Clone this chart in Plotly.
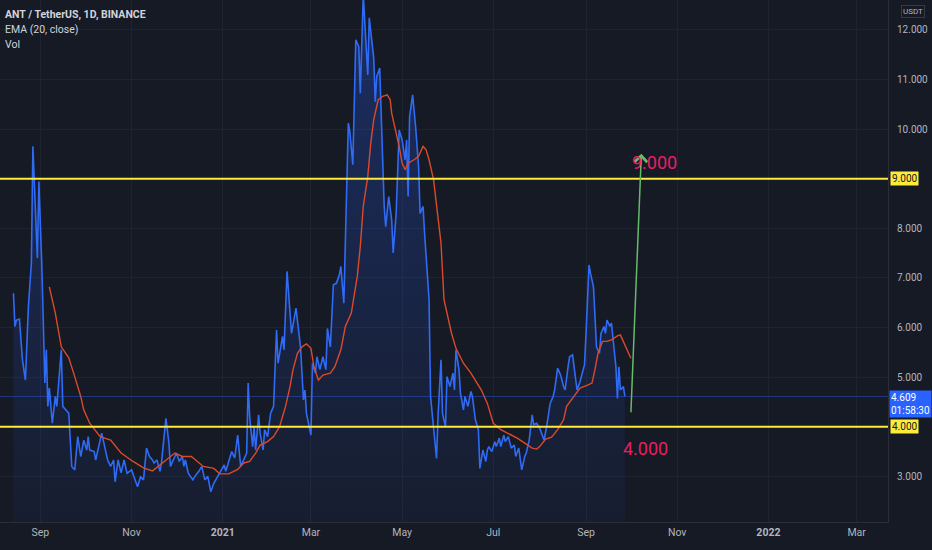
import plotly.graph_objects as go

# ANT/USDT daily close
price_dates = [
    "2020-08-14", "2020-08-15", "2020-08-16", "2020-08-18", "2020-08-20", "2020-08-22",
    "2020-08-24", "2020-08-26", "2020-08-27", "2020-08-30", "2020-08-31", "2020-09-02",
    "2020-09-04", "2020-09-05", "2020-09-06", "2020-09-07", "2020-09-09", "2020-09-11",
    "2020-09-12", "2020-09-13", "2020-09-15", "2020-09-16", "2020-09-18", "2020-09-20",
    "2020-09-22", "2020-09-24", "2020-09-26", "2020-09-28", "2020-09-30", "2020-10-02",
    "2020-10-03", "2020-10-04", "2020-10-07", "2020-10-08", "2020-10-11", "2020-10-12",
    "2020-10-14", "2020-10-16", "2020-10-18", "2020-10-20", "2020-10-21", "2020-10-23",
    "2020-10-25", "2020-10-27", "2020-10-29", "2020-11-01", "2020-11-05", "2020-11-07",
    "2020-11-09", "2020-11-11", "2020-11-13", "2020-11-15", "2020-11-16", "2020-11-18",
    "2020-11-20", "2020-11-21", "2020-11-24", "2020-11-26", "2020-11-27", "2020-11-30",
    "2020-12-01", "2020-12-03", "2020-12-05", "2020-12-06", "2020-12-07", "2020-12-09",
    "2020-12-12", "2020-12-14", "2020-12-16", "2020-12-18", "2020-12-20", "2020-12-22",
    "2020-12-24", "2020-12-26", "2020-12-28", "2020-12-30", "2021-01-02", "2021-01-03",
    "2021-01-06", "2021-01-07", "2021-01-09", "2021-01-11", "2021-01-13", "2021-01-15",
    "2021-01-17", "2021-01-18", "2021-01-19", "2021-01-21", "2021-01-22", "2021-01-23",
    "2021-01-25", "2021-01-26", "2021-01-28", "2021-01-29", "2021-01-31", "2021-02-02",
    "2021-02-04", "2021-02-06", "2021-02-07", "2021-02-10", "2021-02-11", "2021-02-13",
    "2021-02-16", "2021-02-19", "2021-02-21", "2021-02-22", "2021-02-24", "2021-02-25",
    "2021-02-26", "2021-03-01", "2021-03-02", "2021-03-04", "2021-03-05", "2021-03-07",
    "2021-03-09", "2021-03-11", "2021-03-12", "2021-03-14", "2021-03-16", "2021-03-18",
    "2021-03-20", "2021-03-21", "2021-03-23", "2021-03-26", "2021-03-27", "2021-03-29",
    "2021-03-31", "2021-04-02", "2021-04-03", "2021-04-05", "2021-04-08", "2021-04-09",
    "2021-04-12", "2021-04-13", "2021-04-14", "2021-04-16", "2021-04-17", "2021-04-19",
    "2021-04-20", "2021-04-22", "2021-04-24", "2021-04-25", "2021-04-27", "2021-04-29",
    "2021-05-01", "2021-05-03", "2021-05-04", "2021-05-05", "2021-05-06", "2021-05-08",
    "2021-05-10", "2021-05-11", "2021-05-12", "2021-05-13", "2021-05-15", "2021-05-16",
    "2021-05-18", "2021-05-19", "2021-05-20", "2021-05-22", "2021-05-24", "2021-05-25",
    "2021-05-27", "2021-05-28", "2021-05-30", "2021-05-31", "2021-06-02", "2021-06-04",
    "2021-06-05", "2021-06-06", "2021-06-08", "2021-06-09", "2021-06-11", "2021-06-12",
    "2021-06-14", "2021-06-16", "2021-06-17", "2021-06-19", "2021-06-21", "2021-06-22",
    "2021-06-24", "2021-06-26", "2021-06-27", "2021-06-28", "2021-06-30", "2021-07-02",
    "2021-07-03", "2021-07-05", "2021-07-06", "2021-07-08", "2021-07-09", "2021-07-11",
    "2021-07-13", "2021-07-15", "2021-07-16", "2021-07-18", "2021-07-20", "2021-07-22",
    "2021-07-23", "2021-07-25", "2021-07-27", "2021-07-28", "2021-07-30", "2021-08-01",
    "2021-08-03", "2021-08-04", "2021-08-06", "2021-08-08", "2021-08-10", "2021-08-11",
    "2021-08-13", "2021-08-15", "2021-08-17", "2021-08-18", "2021-08-20", "2021-08-21",
    "2021-08-23", "2021-08-25", "2021-08-26", "2021-08-28", "2021-08-29", "2021-08-31",
    "2021-09-01", "2021-09-03", "2021-09-04", "2021-09-06", "2021-09-07", "2021-09-08",
    "2021-09-10", "2021-09-11", "2021-09-13", "2021-09-14", "2021-09-15", "2021-09-17",
    "2021-09-18", "2021-09-19", "2021-09-21", "2021-09-22", "2021-09-23", "2021-09-24",
    "2021-09-26", "2021-09-27",
]
price_close = [
    6.69, 6.02, 6.15, 6.17, 5.35, 4.94,
    6.42, 7.30, 9.65, 7.40, 8.94, 7.23,
    4.88, 5.55, 4.41, 4.78, 4.07, 4.61,
    4.41, 4.81, 5.55, 4.41, 4.34, 4.27,
    3.20, 3.13, 3.80, 3.40, 3.73, 3.53,
    3.80, 3.53, 3.50, 3.33, 3.73, 3.87,
    3.60, 3.33, 3.20, 3.33, 2.89, 3.33,
    3.07, 3.33, 3.06, 3.13, 2.79, 2.99,
    2.93, 3.57, 3.40, 3.33, 3.27, 3.33,
    3.10, 3.27, 4.17, 3.67, 3.20, 3.40,
    3.47, 3.30, 3.40, 3.20, 3.33, 3.06,
    2.93, 3.03, 3.10, 3.20, 2.93, 3.00,
    2.69, 2.86, 2.96, 3.06, 3.23, 3.10,
    3.40, 3.50, 3.37, 3.83, 3.20, 3.33,
    3.47, 4.88, 4.20, 3.60, 4.00, 3.53,
    4.24, 3.87, 3.53, 3.94, 3.80, 4.27,
    4.41, 5.95, 5.28, 5.82, 5.55, 7.13,
    5.88, 6.39, 5.82, 5.61, 4.54, 4.74,
    4.27, 3.83, 5.28, 5.08, 5.41, 5.15,
    5.41, 5.15, 5.98, 5.61, 6.86, 6.89,
    7.06, 7.23, 6.49, 10.12, 9.95, 9.28,
    11.80, 11.66, 10.72, 12.70, 11.09, 12.24,
    11.43, 10.55, 11.06, 11.23, 10.29, 8.44,
    8.03, 8.64, 8.17, 7.50, 8.30, 9.98,
    9.78, 9.38, 9.78, 8.64, 10.25, 10.69,
    10.05, 9.71, 9.24, 8.30, 8.44, 7.90,
    7.09, 6.56, 4.61, 3.94, 3.36, 4.20,
    5.35, 4.27, 4.00, 5.01, 4.81, 5.08,
    4.74, 5.55, 5.15, 4.68, 4.34, 4.61,
    4.41, 4.71, 4.61, 4.14, 3.94, 3.16,
    3.53, 3.30, 3.53, 3.60, 3.50, 3.70,
    3.60, 3.77, 3.60, 3.83, 3.70, 3.80,
    3.57, 3.63, 3.40, 3.57, 3.13, 3.40,
    3.47, 3.73, 4.24, 4.04, 4.07, 3.97,
    3.83, 3.73, 4.07, 4.47, 4.61, 4.74,
    5.18, 5.04, 4.81, 4.74, 5.21, 5.41,
    5.45, 5.01, 4.74, 4.91, 5.01, 5.25,
    5.88, 7.26, 7.09, 6.82, 6.22, 5.61,
    5.48, 5.88, 6.02, 5.88, 6.15, 6.02,
    6.09, 5.82, 5.21, 4.57, 5.21, 4.74,
    4.81, 4.61,
]

# EMA (20, close)
ema_dates = [
    "2020-09-07", "2020-09-11", "2020-09-15", "2020-09-20", "2020-09-24", "2020-09-28",
    "2020-09-30", "2020-10-04", "2020-10-11", "2020-10-18", "2020-10-25", "2020-11-02",
    "2020-11-09", "2020-11-15", "2020-11-20", "2020-11-30", "2020-12-05", "2020-12-11",
    "2020-12-19", "2020-12-26", "2020-12-30", "2021-01-05", "2021-01-11", "2021-01-15",
    "2021-01-19", "2021-01-23", "2021-01-26", "2021-01-31", "2021-02-04", "2021-02-08",
    "2021-02-12", "2021-02-15", "2021-02-17", "2021-02-20", "2021-02-23", "2021-02-26",
    "2021-03-01", "2021-03-03", "2021-03-06", "2021-03-09", "2021-03-14", "2021-03-17",
    "2021-03-21", "2021-03-24", "2021-03-28", "2021-04-01", "2021-04-03", "2021-04-05",
    "2021-04-08", "2021-04-10", "2021-04-12", "2021-04-15", "2021-04-18", "2021-04-21",
    "2021-04-23", "2021-04-24", "2021-04-26", "2021-04-29", "2021-05-01", "2021-05-03",
    "2021-05-05", "2021-05-09", "2021-05-12", "2021-05-15", "2021-05-17", "2021-05-19",
    "2021-05-22", "2021-05-24", "2021-05-27", "2021-05-29", "2021-05-31", "2021-06-03",
    "2021-06-06", "2021-06-09", "2021-06-11", "2021-06-16", "2021-06-20", "2021-06-23",
    "2021-06-27", "2021-07-01", "2021-07-06", "2021-07-11", "2021-07-17", "2021-07-22",
    "2021-07-27", "2021-07-30", "2021-08-01", "2021-08-05", "2021-08-09", "2021-08-13",
    "2021-08-17", "2021-08-19", "2021-08-24", "2021-08-28", "2021-09-02", "2021-09-05",
    "2021-09-07", "2021-09-09", "2021-09-12", "2021-09-15", "2021-09-18", "2021-09-22",
    "2021-09-24", "2021-09-27", "2021-09-29", "2021-10-01",
]
ema_values = [
    6.82, 6.29, 5.61, 5.39, 5.01, 4.61,
    4.34, 4.07, 3.80, 3.73, 3.47, 3.30,
    3.17, 3.11, 3.23, 3.47, 3.40, 3.40,
    3.20, 3.16, 3.05, 3.05, 3.14, 3.27,
    3.30, 3.47, 3.63, 3.70, 3.80, 4.00,
    4.41, 4.81, 5.15, 5.48, 5.61, 5.67,
    5.58, 5.21, 4.94, 5.04, 5.08, 5.21,
    5.55, 6.02, 6.29, 7.03, 7.63, 8.44,
    9.04, 9.71, 10.19, 10.59, 10.66, 10.69,
    10.59, 10.32, 10.05, 9.65, 9.31, 9.18,
    9.31, 9.38, 9.45, 9.65, 9.58, 9.38,
    8.98, 8.44, 7.70, 6.56, 6.29, 5.89,
    5.58, 5.38, 5.28, 5.08, 4.88, 4.74,
    4.47, 4.07, 3.94, 3.87, 3.77, 3.67,
    3.57, 3.55, 3.60, 3.75, 3.79, 3.94,
    4.14, 4.41, 4.61, 4.78, 4.84, 4.88,
    5.15, 5.48, 5.72, 5.72, 5.75, 5.83,
    5.85, 5.65, 5.52, 5.38,
]

levels = [9.0, 4.0]
last_price = 4.609
countdown = "01:58:30"
arrow_start = ("2021-10-01", 4.26)
arrow_end = ("2021-10-08", 9.50)
target_labels = [("2021-10-17", 9.32, "9.000"), ("2021-10-11", 3.57, "4.000")]

tick_dates = ["2020-09-01", "2020-11-01", "2021-01-01", "2021-03-01", "2021-05-01",
              "2021-07-01", "2021-09-01", "2021-11-01", "2022-01-01", "2022-03-01"]
tick_text = ["Sep", "Nov", "<b>2021</b>", "Mar", "May", "Jul", "Sep", "Nov",
             "<b>2022</b>", "Mar"]
# 4 and 9 are covered by the level labels
y_ticks = [3, 5, 6, 7, 8, 10, 11, 12]
y_grid = [3, 4, 5, 6, 7, 8, 9, 10, 11, 12]

BG = "#161a25"
GRID = "#1f2331"
TEXT = "#b2b5be"
YELLOW = "#ffeb3b"
BLUE = "#2f6bf5"
PINK = "#e91e63"
FONT = "Roboto"

fig = go.Figure()

fig.add_trace(go.Scatter(
    x=price_dates, y=price_close, mode="lines",
    line=dict(color=BLUE, width=1.6),
    fill="tozeroy",
    fillgradient=dict(type="vertical",
                      colorscale=[[0, "rgba(41,98,255,0.0)"], [1, "rgba(41,98,255,0.28)"]]),
    hoverinfo="skip", showlegend=False,
))
fig.add_trace(go.Scatter(
    x=ema_dates, y=ema_values, mode="lines",
    line=dict(color="#dc4a2a", width=1.4),
    hoverinfo="skip", showlegend=False,
))

# grid lines for the covered levels (drawn under the data)
for g in y_grid:
    if g not in y_ticks:
        fig.add_hline(y=g, line=dict(color=GRID, width=1), layer="below")

# horizontal support / resistance
for lv in levels:
    fig.add_hline(y=lv, line=dict(color=YELLOW, width=2))
    fig.add_annotation(x=1, xref="paper", y=lv, yref="y", xanchor="left", yanchor="middle",
                       xshift=2, text=f"{lv:.3f}", showarrow=False,
                       font=dict(family=FONT, size=10, color="#131722"),
                       bgcolor=YELLOW, borderpad=1)

# last price line and label
fig.add_hline(y=last_price, line=dict(color="rgba(41,98,255,0.4)", width=1))
fig.add_annotation(x=1, xref="paper", y=last_price, yref="y", xanchor="left", yanchor="top",
                   xshift=1, yshift=7, text=f"{last_price:.3f}<br>{countdown}", align="left",
                   showarrow=False, font=dict(family=FONT, size=10, color="#ffffff"),
                   bgcolor="#2962ff", borderpad=1)

# projection arrow
fig.add_annotation(x=arrow_end[0], y=arrow_end[1], ax=arrow_start[0], ay=arrow_start[1],
                   xref="x", yref="y", axref="x", ayref="y", text="",
                   showarrow=True, arrowhead=4, arrowsize=1.6, arrowwidth=1.5,
                   arrowcolor="#66bb6a")
for d, v, t in target_labels:
    fig.add_annotation(x=d, y=v, text=t, showarrow=False,
                       font=dict(family=FONT, size=18, color=PINK))

# header text
header = [("<b>ANT / TetherUS, 1D, BINANCE</b>", 14), ("EMA (20, close)", 29), ("Vol", 44)]
for txt, py in header:
    fig.add_annotation(x=0, xref="paper", y=1 - py / 522, yref="paper", xanchor="left",
                       yanchor="middle", xshift=3, text=txt, showarrow=False,
                       font=dict(family=FONT, size=10.5, color="#d1d4dc"))

fig.add_annotation(x=1, xref="paper", y=1 - 12 / 522, yref="paper", xanchor="left",
                   yanchor="middle", xshift=13, text="USDT", showarrow=False,
                   font=dict(family=FONT, size=8, color=TEXT),
                   bordercolor="#363a45", borderwidth=1, borderpad=1)

fig.update_layout(
    width=932, height=550,
    margin=dict(l=0, r=44, t=0, b=28, autoexpand=False),
    paper_bgcolor=BG, plot_bgcolor=BG,
    xaxis=dict(range=["2020-08-05", "2022-03-22"], tickvals=tick_dates, ticktext=tick_text,
               showgrid=True, gridcolor=GRID, zeroline=False, showline=True,
               linecolor="#2a2e39", ticks="", tickfont=dict(family=FONT, size=10.5, color=TEXT),
               fixedrange=True),
    yaxis=dict(range=[2.08, 12.6], side="right", tickvals=y_ticks,
               ticktext=[f"{v:.3f}" for v in y_ticks],
               showgrid=True, gridcolor=GRID, zeroline=False, showline=True,
               ticklabelstandoff=6,
               linecolor="#2a2e39", ticks="", tickfont=dict(family=FONT, size=10, color=TEXT)),
    showlegend=False,
)

fig.write_html("out.html", config={"displayModeBar": False},
               post_script="document.body.style.margin='0';")
